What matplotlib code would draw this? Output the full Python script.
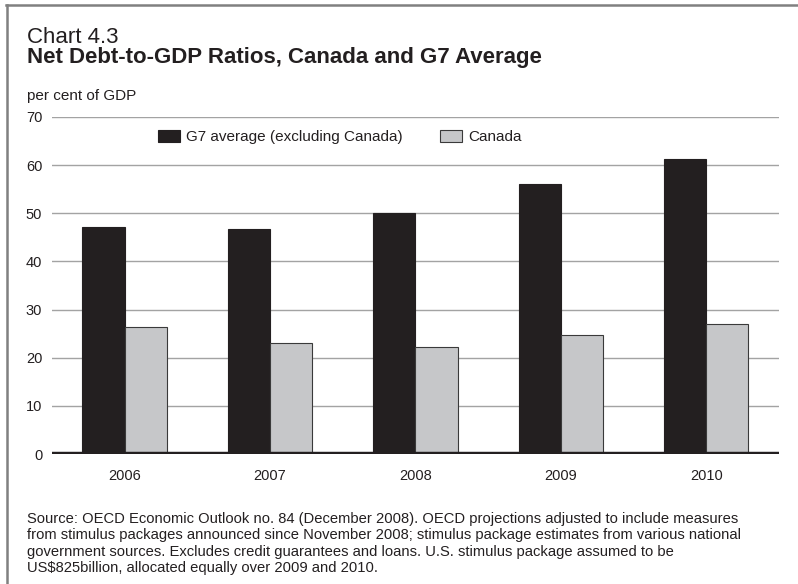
import numpy as np
import matplotlib
matplotlib.use('Agg')
import matplotlib.pyplot as plt
from matplotlib.lines import Line2D

plt.rcParams['font.family'] = ['Liberation Sans', 'DejaVu Sans']

years = ['2006', '2007', '2008', '2009', '2010']
g7_avg = [47.2, 46.8, 50.0, 56.0, 61.2]
canada = [26.4, 23.1, 22.2, 24.7, 27.1]
y_ticks = [0, 10, 20, 30, 40, 50, 60, 70]

dark = '#231f20'
light = '#c6c7c9'
grid_col = '#a3a3a3'

fig = plt.figure(figsize=(7.98, 5.84), dpi=100)
ax = fig.add_axes([0.065, 0.2226, 0.911, 0.5771])

x = np.arange(len(years))
w = 0.29
ax.bar(x - w / 2, g7_avg, w, color=dark, edgecolor=dark, linewidth=0.8,
       label='G7 average (excluding Canada)', zorder=2)
ax.bar(x + w / 2, canada, w, color=light, edgecolor='#3a3a3a', linewidth=0.8,
       label='Canada', zorder=2)

ax.set_xlim(-0.5, len(years) - 0.5)
ax.set_ylim(0, 70)
ax.set_yticks(y_ticks)
ax.set_xticks(x)
ax.set_xticklabels(years)
ax.tick_params(axis='both', length=0, labelsize=10.5, colors='#231f20')
ax.tick_params(axis='y', pad=7)
ax.tick_params(axis='x', pad=11)
for t in y_ticks[1:]:
    ax.axhline(t, color=grid_col, lw=1.0, zorder=1)
ax.axhline(0, color=dark, lw=3.2, zorder=3)
for s in ax.spines.values():
    s.set_visible(False)

leg = ax.legend(loc='center left', bbox_to_anchor=(0.198, 0.7654),
                bbox_transform=fig.transFigure, ncol=2, frameon=False,
                fontsize=11, handlelength=1.45, handleheight=0.87,
                handletextpad=0.4, columnspacing=2.4, borderpad=0,
                borderaxespad=0)
for t in leg.get_texts():
    t.set_color('#231f20')

fig.text(0.034, 0.926, 'Chart 4.3', fontsize=16, color='#231f20', va='baseline')
fig.text(0.034, 0.892, 'Net Debt-to-GDP Ratios, Canada and G7 Average',
         fontsize=16, fontweight='bold', color='#231f20', va='baseline')
fig.text(0.034, 0.829, 'per cent of GDP', fontsize=11, color='#231f20', va='baseline')

note = ('Source: OECD Economic Outlook no. 84 (December 2008). OECD projections adjusted to include measures\n'
        'from stimulus packages announced since November 2008; stimulus package estimates from various national\n'
        'government sources. Excludes credit guarantees and loans. U.S. stimulus package assumed to be\n'
        'US$825billion, allocated equally over 2009 and 2010.')
fig.text(0.034, 0.123, note, fontsize=10.6, color='#231f20', va='top', linespacing=1.2)

# frame lines at top and left
fig.add_artist(Line2D([0.008, 1.0], [0.9915, 0.9915], transform=fig.transFigure,
                      color='#808080', lw=1.8))
fig.add_artist(Line2D([0.009, 0.009], [0.0, 0.9915], transform=fig.transFigure,
                      color='#808080', lw=1.8))

fig.savefig('out.png', dpi=100)
